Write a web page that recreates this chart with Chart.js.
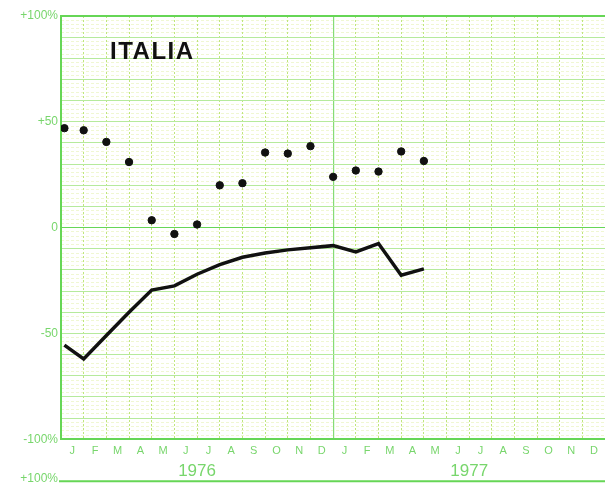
<!DOCTYPE html>
<html>
<head>
<meta charset="utf-8">
<script src="https://cdn.jsdelivr.net/npm/chart.js@4"></script>
<style>
  html, body { margin: 0; padding: 0; background: #fff; overflow: hidden; }
  #wrap { width: 610px; height: 485px; }
</style>
</head>
<body>
<div id="wrap"><canvas id="chartItalia" width="610" height="485"></canvas></div>
<script>
// month positions (0 = start of Jan 1976, 12 = start of Jan 1977)
const monthPos = [0.15, 1, 2, 3, 4, 5, 6, 7, 8, 9, 10, 11, 12, 13, 14, 15, 16];
// dots series (%)
const dotValues = [47, 46, 40.5, 31, 3.5, -3, 1.5, 20, 21, 35.5, 35, 38.5, 24, 27, 26.5, 36, 31.5];
// solid line series (%)
const lineValues = [-55.5, -62, -51, -40, -29.5, -27.5, -22, -17.5, -14, -12, -10.5, -9.5, -8.5, -11.5, -7.5, -22.5, -19.5];

const monthLabels = ['J', 'F', 'M', 'A', 'M', 'J', 'J', 'A', 'S', 'O', 'N', 'D'];
const yearLabels = ['1976', '1977'];
const yTickLabels = { '100': '+100%', '50': '+50', '0': '0', '-50': '-50', '-100': '-100%' };
const titleText = 'ITALIA';

const GREEN = '#66d656';
const GREEN_TXT = '#78d66c';
const GREEN_MAJOR = '#b6ea9c';
const GREEN_DASH = '#bfe67c';
const YELLOW_MINOR = '#f0f7d2';
const FONT = "'Liberation Sans', Arial, sans-serif";

function setTicks(values) {
    return (scale) => { scale.ticks = values.map(v => ({ value: v })); };
}

const range = (a, b, step) => {
    const out = [];
    for (let v = a; v <= b + 1e-9; v += step) out.push(Math.round(v * 100) / 100);
    return out;
};

// decorations: title and the top edge of the next panel
const decorPlugin = {
    id: 'decor',
    afterDraw(chart) {
        const ctx = chart.ctx;
        const a = chart.chartArea;
        ctx.save();
        ctx.fillStyle = '#111';
        ctx.font = "bold 24px " + FONT;
        ctx.letterSpacing = '1.5px';
        ctx.textBaseline = 'alphabetic';
        ctx.fillText(titleText, a.left + 49, a.top + 43);
        ctx.letterSpacing = '0px';
        // next panel top
        const yNext = a.bottom + 42;
        ctx.strokeStyle = GREEN;
        ctx.lineWidth = 2;
        ctx.beginPath();
        ctx.moveTo(a.left - 2, yNext);
        ctx.lineTo(chart.width, yNext);
        ctx.stroke();
        ctx.fillStyle = GREEN_TXT;
        ctx.font = "12px " + FONT;
        ctx.textAlign = 'right';
        ctx.fillText('+100%', a.left - 3, yNext + 1);
        ctx.restore();
    }
};

const ctx = document.getElementById('chartItalia').getContext('2d');
const chart = new Chart(ctx, {
    type: 'scatter',
    data: {
        datasets: [
            {
                type: 'scatter',
                data: monthPos.map((x, i) => ({ x: x, y: dotValues[i] })),
                backgroundColor: '#111',
                borderColor: '#111',
                pointRadius: 3.7,
                pointHoverRadius: 3.7
            },
            {
                type: 'line',
                data: monthPos.map((x, i) => ({ x: x, y: lineValues[i] })),
                borderColor: '#111',
                borderWidth: 3.5,
                pointRadius: 0,
                tension: 0,
                fill: false
            }
        ]
    },
    options: {
        responsive: false,
        animation: false,
        events: [],
        layout: { padding: { top: 16, bottom: 4, left: 0, right: 0 } },
        plugins: { legend: { display: false }, tooltip: { enabled: false } },
        scales: {
            yMinor: {
                type: 'linear', position: 'right', min: -100, max: 100,
                afterBuildTicks: setTicks(range(-98, 98, 2).filter(v => v % 10 !== 0)),
                afterFit: (s) => { s.width = 0; },
                ticks: { display: false },
                grid: { color: YELLOW_MINOR, lineWidth: 1, drawTicks: false },
                border: { display: false, dash: [3, 2] }
            },
            xGrid: {
                type: 'linear', position: 'bottom', min: 0, max: 24, weight: 5,
                afterBuildTicks: setTicks(range(1, 23, 1).filter(v => v !== 12)),
                afterFit: (s) => { s.height = 0; },
                ticks: { display: false },
                grid: { color: GREEN_DASH, lineWidth: 1, drawTicks: false },
                border: { display: false, dash: [2, 2] }
            },
            xMid: {
                type: 'linear', position: 'bottom', min: 0, max: 24, weight: 4,
                afterBuildTicks: setTicks([12]),
                afterFit: (s) => { s.height = 0; },
                ticks: { display: false },
                grid: { color: '#86dc76', lineWidth: 1.2, drawTicks: false },
                border: { display: false }
            },
            y: {
                type: 'linear', position: 'left', min: -100, max: 100,
                afterBuildTicks: setTicks(range(-100, 100, 10)),
                afterFit: (s) => { s.width = 61; },
                ticks: {
                    color: GREEN_TXT,
                    font: { family: FONT, size: 12 },
                    padding: 3,
                    callback: (v) => yTickLabels[String(v)] || ''
                },
                grid: {
                    color: (c) => (c.tick.value === 0 || Math.abs(c.tick.value) === 100 ? GREEN : GREEN_MAJOR),
                    lineWidth: (c) => (Math.abs(c.tick.value) === 100 ? 2 : 1.1),
                    drawTicks: false
                },
                border: { color: GREEN, width: 2 }
            },
            x: {
                type: 'linear', position: 'bottom', min: 0, max: 24, weight: 1,
                afterBuildTicks: setTicks(range(0.5, 23.5, 1)),
                ticks: {
                    color: GREEN_TXT,
                    font: { family: FONT, size: 11, lineHeight: 1 },
                    padding: 6,
                    maxRotation: 0,
                    autoSkip: false,
                    callback: (v) => monthLabels[Math.floor(v) % 12]
                },
                grid: { display: false, drawTicks: false },
                border: { color: GREEN, width: 2 }
            },
            xYear: {
                type: 'linear', position: 'bottom', min: 0, max: 24, weight: 2,
                afterBuildTicks: setTicks([6, 18]),
                ticks: {
                    color: GREEN_TXT,
                    font: { family: FONT, size: 17, lineHeight: 1.1 },
                    padding: 0,
                    maxRotation: 0,
                    autoSkip: false,
                    callback: (v) => yearLabels[v < 12 ? 0 : 1]
                },
                grid: { display: false, drawTicks: false },
                border: { display: false }
            }
        }
    },
    plugins: [decorPlugin]
});
</script>
</body>
</html>
